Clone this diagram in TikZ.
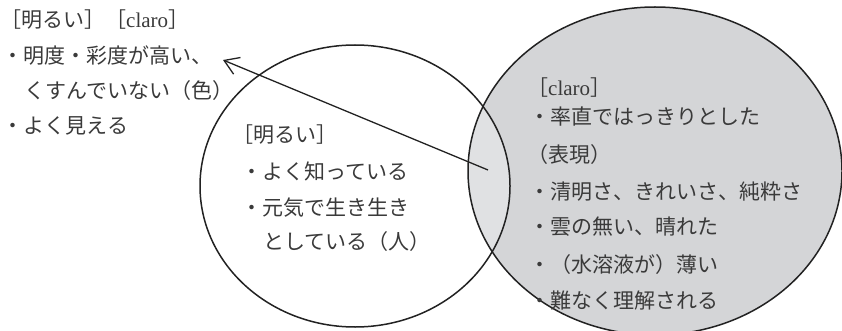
\documentclass[tikz,border=0pt]{standalone}
\usepackage{fontspec}
\setmainfont{Liberation Serif}
\newfontfamily\jp{Noto Sans CJK JP}
\usetikzlibrary{arrows.meta}
\definecolor{txt}{HTML}{3A3A3A}
\definecolor{darkfill}{HTML}{D4D5D7}
\definecolor{lensfill}{HTML}{E0E1E3}
\definecolor{ink}{HTML}{222222}
\begin{document}
\begin{tikzpicture}[x=1pt,y=-1pt,
  outline/.style={draw=ink, line width=1.5pt},
  arr/.style={draw=ink, line width=1.3pt, -{Straight Barb[length=14pt, width=18pt, line width=1.3pt]}},
  lbl/.style={anchor=base west, inner sep=0pt, text=txt, font=\fontsize{21}{25}\selectfont\jp}]
\useasboundingbox (0,0) rectangle (842,331);
\begin{scope}
  \clip (0,0) rectangle (842,331);
  \fill[darkfill] (655,171) ellipse [x radius=187pt, y radius=164pt];
  \begin{scope}
    \clip (355,186) ellipse [x radius=155pt, y radius=141pt];
    \fill[lensfill] (655,171) ellipse [x radius=187pt, y radius=164pt];
  \end{scope}
  \draw[outline] (355,186) ellipse [x radius=155pt, y radius=141pt];
  \draw[outline] (655,171) ellipse [x radius=187pt, y radius=164pt];
\end{scope}
% top-left block
\node[lbl] (tl1) at (0,28) {［明るい］［{\rmfamily claro}］};
\node[lbl] (tl2) at (2.5,64) {・明度・彩度が高い、};
\node[lbl] (tl3) at (24,99) {くすんでいない（色）};
\node[lbl] (tl4) at (2.5,134) {・よく見える};
% left ellipse
\node[lbl] (l1) at (232,143) {［明るい］};
\node[lbl] (l2) at (241.5,179) {・よく知っている};
\node[lbl] (l3) at (241.5,215) {・元気で生き生き};
\node[lbl] (l4) at (263,249) {としている（人）};
% right ellipse
\node[lbl] (r1) at (527,96) {［{\rmfamily claro}］};
\node[lbl] (r2) at (529.5,125) {・率直ではっきりとした};
\node[lbl] (r3) at (527,163) {（表現）};
\node[lbl] (r4) at (529.5,199) {・清明さ、きれいさ、純粋さ};
\node[lbl] (r5) at (529.5,234) {・雲の無い、晴れた};
\node[lbl] (r6) at (529.5,272) {・（水溶液が）薄い};
\node[lbl] (r7) at (529.5,308) {・難なく理解される};
% arrow
\coordinate (lens) at (488,170);
\coordinate (tip) at (223,60);
\draw[arr] (lens) -- (tip);
\end{tikzpicture}
\end{document}
